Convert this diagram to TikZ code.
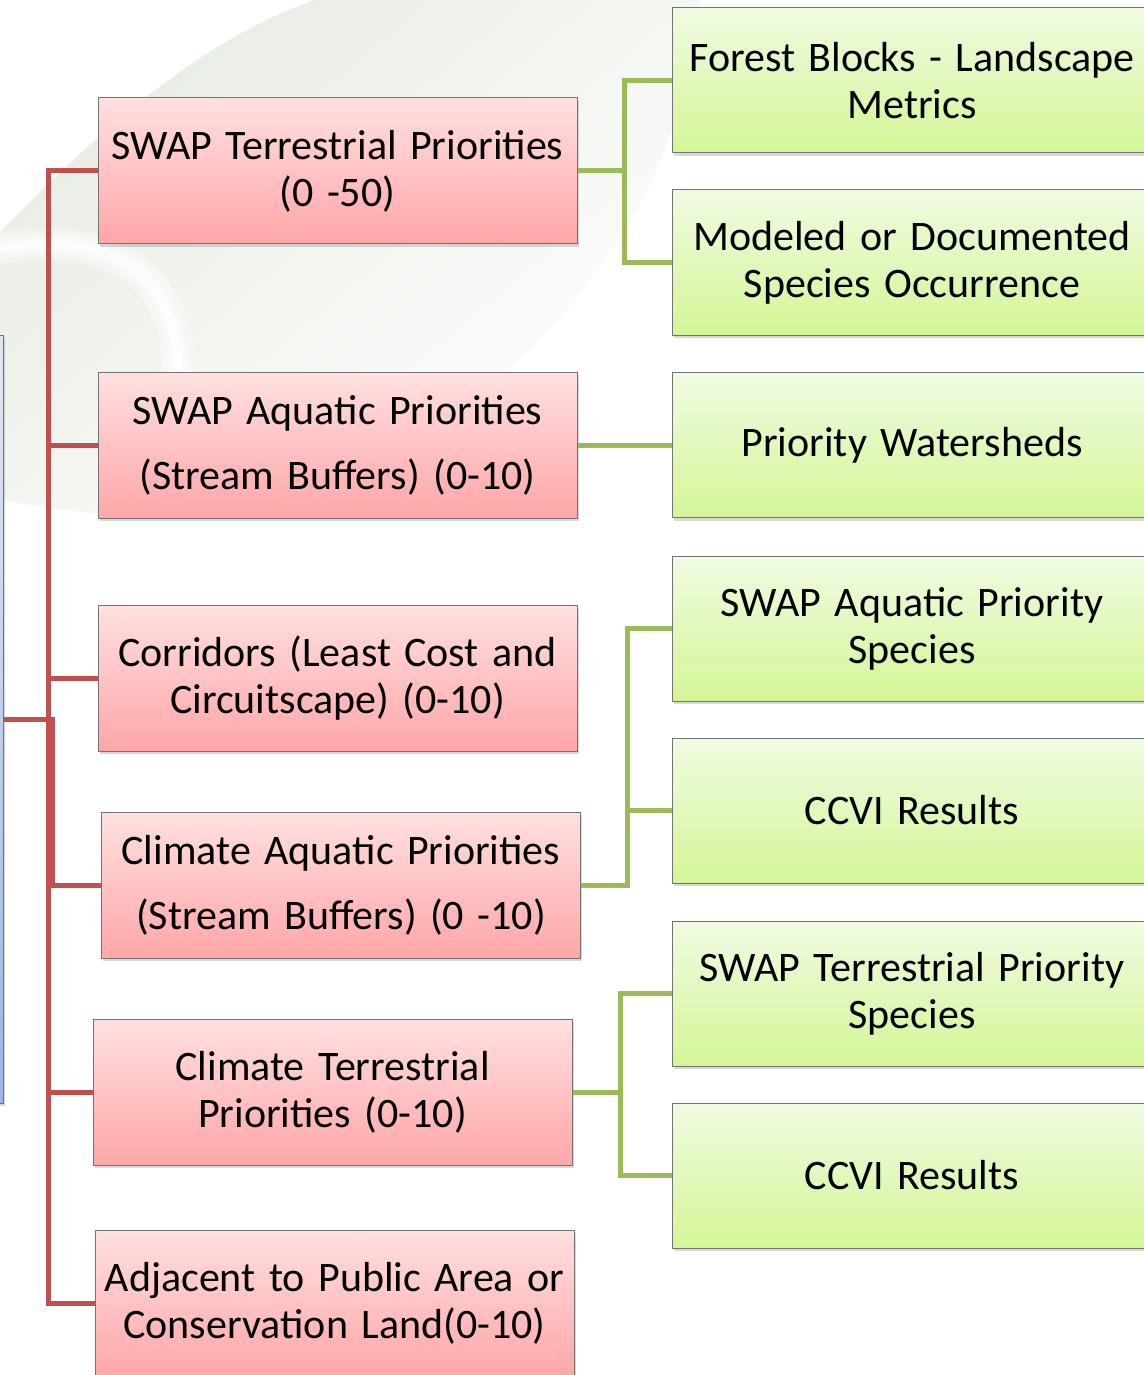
\documentclass[tikz,border=0pt]{standalone}
\usepackage{fontspec}
\setmainfont{Carlito}
\usetikzlibrary{shadows}

\definecolor{linered}{RGB}{192,80,77}
\definecolor{linegreen}{RGB}{155,187,89}
\definecolor{pinktop}{RGB}{255,224,224}
\definecolor{pinkbot}{RGB}{255,166,168}
\definecolor{greentop}{RGB}{240,251,226}
\definecolor{greenbot}{RGB}{212,246,150}
\definecolor{bluetop}{RGB}{226,232,242}
\definecolor{bluebot}{RGB}{160,180,230}
\definecolor{bgtint}{RGB}{232,237,228}

\newcommand\boxfont{\fontsize{21}{23.5}\selectfont\spaceskip=0.32em plus 0.1em\relax}

\tikzset{
	box/.style={draw={rgb,255:red,115;green,115;blue,115}, line width=0.5pt,
		minimum width=239.5pt, minimum height=73pt, inner sep=0pt, align=center,
		font=\boxfont,
		drop shadow={shadow xshift=0.8pt, shadow yshift=-1.5pt, opacity=0.3}},
	pinkbox/.style={box, top color=pinktop, bottom color=pinkbot},
	greenbox/.style={box, minimum width=240pt, minimum height=72.5pt,
		top color=greentop, bottom color=greenbot},
	rootbox/.style={box, minimum width=253pt, minimum height=384pt,
		top color=bluetop, bottom color=bluebot},
	redlink/.style={draw=linered, line width=2.5pt},
	greenlink/.style={draw=linegreen, line width=2.5pt},
}

\begin{document}
\begin{tikzpicture}[x=0.5pt,y=-0.5pt]
	\useasboundingbox (0,0) rectangle (1144,1375);
	\clip (0,0) rectangle (1144,1375);
	\fill[white] (0,0) rectangle (1144,1375);

	% faint leaf in the back
	\shade[shading=axis, top color=bgtint, bottom color=white, shading angle=40]
		(0,232) .. controls (100,130) and (200,40) .. (315,0) -- (700,0)
		.. controls (690,200) and (520,420) .. (300,500)
		.. controls (230,530) and (120,520) .. (0,500) -- cycle;
	\foreach \w/\o in {16/0.35, 10/0.45, 5/0.6}
		\draw[white, line width=\w pt, line cap=round, opacity=\o]
			(-10,250) .. controls (100,230) and (170,262) .. (178,360)
			.. controls (182,420) and (190,470) .. (215,520);

	\node[rootbox] (root) at (-250,719) {};

	\node[pinkbox] (terr) at (337.5,171) {SWAP Terrestrial Priorities\\(0 -50)};
	\node[pinkbox] (aq) at (337.5,445) {SWAP Aquatic Priorities\\[9pt](Stream Buffers) (0-10)};
	\node[pinkbox] (corr) at (337.5,678) {Corridors (Least Cost and\\Circuitscape) (0-10)};
	\node[pinkbox] (climaq) at (341,885) {Climate Aquatic Priorities\\[9pt](Stream Buffers) (0 -10)};
	\node[pinkbox] (climterr) at (332.5,1092) {Climate Terrestrial\\Priorities (0-10)};
	\node[pinkbox] (adj) at (334.5,1303) {Adjacent to Public Area or\\Conservation Land(0-10)};

	\node[greenbox] (forest) at (912,80.5) {Forest Blocks - Landscape\\Metrics};
	\node[greenbox] (modeled) at (912,262.5) {Modeled or Documented\\Species Occurrence};
	\node[greenbox] (water) at (912,445) {Priority Watersheds};
	\node[greenbox] (aqspec) at (912,628.5) {SWAP Aquatic Priority\\Species};
	\node[greenbox] (ccvia) at (912,810.5) {CCVI Results};
	\node[greenbox] (terrspec) at (912,993.5) {SWAP Terrestrial Priority\\Species};
	\node[greenbox] (ccvib) at (912,1175.5) {CCVI Results};

	% red tree on the left
	\coordinate (trunk) at (48,171);
	\draw[redlink] (terr.west) -- (trunk) |- (adj.west);
	\draw[redlink] (aq.west) -- (aq.west -| trunk);
	\draw[redlink] (corr.west) -- (corr.west -| trunk);
	\draw[redlink] (climterr.west) -- (climterr.west -| trunk);
	\draw[redlink] (root.east) -- ++(49,0) |- (climaq.west);

	% green links on the right
	\draw[greenlink] (terr.east) -- ++(47,0) |- (forest.west);
	\draw[greenlink] (terr.east) -- ++(47,0) |- (modeled.west);
	\draw[greenlink] (aq.east) -- (water.west);
	\draw[greenlink] (climaq.east) -- ++(46,0) |- (aqspec.west);
	\draw[greenlink] (climaq.east) -- ++(46,0) |- (ccvia.west);
	\draw[greenlink] (climterr.east) -- ++(48,0) |- (terrspec.west);
	\draw[greenlink] (climterr.east) -- ++(48,0) |- (ccvib.west);
\end{tikzpicture}
\end{document}
